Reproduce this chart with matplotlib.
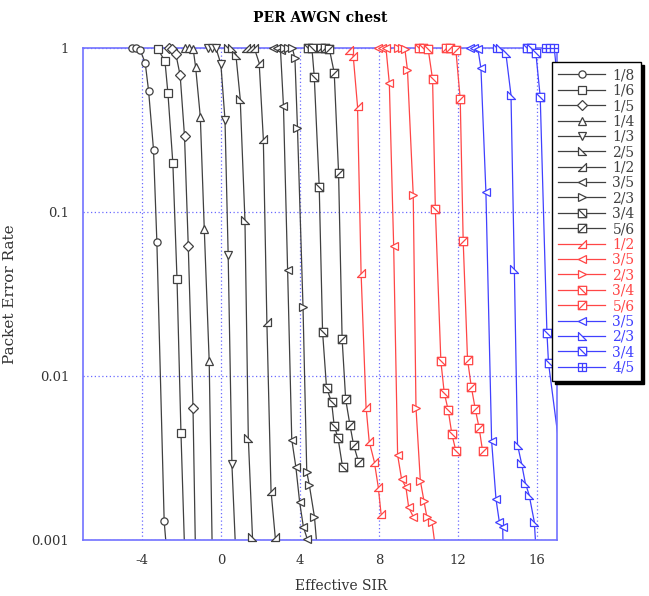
import numpy as np
import matplotlib
matplotlib.use("Agg")
import matplotlib.pyplot as plt
from matplotlib.path import Path
from matplotlib.lines import Line2D

plt.rcParams['font.family'] = ['DejaVu Serif']

# ---- data : effective SIR [dB] and PER ----
sir_b18 = [-4.5, -4.3, -4.1, -3.85, -3.68, -3.43, -3.26, -2.89, -2.78]
per_b18 = [1, 1, 0.97, 0.81, 0.55, 0.24, 0.066, 0.0013, 0.0009]
sir_b16 = [-3.22, -2.85, -2.70, -2.45, -2.24, -2.04, -1.86]
per_b16 = [0.99, 0.83, 0.53, 0.198, 0.039, 0.0045, 0.0009]
sir_b15 = [-2.67, -2.47, -2.30, -2.08, -1.86, -1.67, -1.43, -1.31]
per_b15 = [1, 0.99, 0.92, 0.68, 0.29, 0.062, 0.0064, 0.0009]
sir_b14 = [-1.82, -1.62, -1.42, -1.30, -1.06, -0.86, -0.61, -0.46]
per_b14 = [1, 1, 0.98, 0.77, 0.38, 0.079, 0.0123, 0.0009]
sir_b13 = [-0.69, -0.49, -0.27, -0.02, 0.19, 0.35, 0.54, 0.72]
per_b13 = [1, 1, 1, 0.80, 0.364, 0.0547, 0.0029, 0.0009]
sir_b25 = [0.32, 0.54, 0.74, 0.96, 1.20, 1.37, 1.58, 1.62]
per_b25 = [1, 1, 0.91, 0.49, 0.089, 0.0042, 0.00105, 0.0009]
sir_b12 = [1.25, 1.45, 1.67, 1.92, 2.13, 2.31, 2.52, 2.73, 2.86]
per_b12 = [1, 1, 1, 0.81, 0.28, 0.0214, 0.002, 0.00105, 0.0009]
sir_b35 = [2.60, 2.80, 3.00, 3.15, 3.36, 3.57, 3.78, 3.97, 4.16, 4.36]
per_b35 = [1, 1, 0.97, 0.443, 0.0443, 0.0041, 0.00277, 0.0017, 0.0012, 0.00101]
sir_b23 = [3.20, 3.40, 3.60, 3.73, 3.86, 4.14, 4.33, 4.46, 4.72, 4.85]
per_b23 = [1, 1, 1, 0.865, 0.324, 0.0263, 0.0026, 0.00216, 0.00138, 0.0009]
sir_b34 = [4.37, 4.59, 4.71, 4.96, 5.13, 5.33, 5.59, 5.72, 5.91, 6.14]
per_b34 = [1, 1, 0.668, 0.143, 0.0186, 0.0085, 0.0069, 0.00495, 0.0042, 0.0028]
sir_b56 = [5.05, 5.27, 5.47, 5.72, 5.94, 6.12, 6.30, 6.52, 6.70, 6.95]
per_b56 = [1, 1, 0.99, 0.707, 0.174, 0.0168, 0.0072, 0.005, 0.0038, 0.003]

sir_r12 = [6.48, 6.68, 6.90, 7.08, 7.33, 7.49, 7.75, 7.95, 8.09]
per_r12 = [0.97, 0.9, 0.44, 0.0425, 0.0065, 0.004, 0.003, 0.0021, 0.00145]
sir_r35 = [7.92, 8.12, 8.34, 8.51, 8.73, 8.93, 9.13, 9.35, 9.49, 9.73]
per_r35 = [1, 1, 1, 0.61, 0.062, 0.0033, 0.00235, 0.0021, 0.00158, 0.00138]
sir_r23 = [8.93, 9.13, 9.30, 9.43, 9.72, 9.86, 10.08, 10.26, 10.41, 10.67, 10.84]
per_r23 = [1, 1, 0.98, 0.73, 0.127, 0.0064, 0.0023, 0.00174, 0.00138, 0.00129, 0.0009]
sir_r34 = [10.03, 10.24, 10.48, 10.70, 10.84, 11.12, 11.29, 11.49, 11.68, 11.88]
per_r34 = [1, 1, 0.98, 0.644, 0.105, 0.0123, 0.0079, 0.0062, 0.0044, 0.0035]
sir_r56 = [11.38, 11.60, 11.88, 12.10, 12.25, 12.47, 12.66, 12.86, 13.06, 13.23]
per_r56 = [1, 1, 0.97, 0.489, 0.0665, 0.0126, 0.0086, 0.0063, 0.0048, 0.0035]

sir_u35 = [12.60, 12.80, 13.00, 13.15, 13.40, 13.69, 13.91, 14.08, 14.25, 14.27]
per_u35 = [1, 1, 0.98, 0.75, 0.133, 0.004, 0.00178, 0.00129, 0.0012, 0.0009]
sir_u23 = [13.96, 14.13, 14.41, 14.67, 14.84, 15.00, 15.20, 15.39, 15.59, 15.85, 15.93]
per_u23 = [1, 1, 0.93, 0.517, 0.045, 0.0038, 0.00295, 0.00224, 0.00188, 0.00129, 0.0009]
sir_u34 = [15.48, 15.68, 15.93, 16.15, 16.49, 16.57, 17.3]
per_u34 = [1, 1, 0.93, 0.505, 0.0184, 0.012, 0.0025]
sir_u45 = [16.44, 16.66, 16.86, 17.3]
per_u45 = [1, 1, 1, 0.3]

labels = ['1/8', '1/6', '1/5', '1/4', '1/3', '2/5', '1/2', '3/5', '2/3', '3/4', '5/6',
          '1/2', '3/5', '2/3', '3/4', '5/6',
          '3/5', '2/3', '3/4', '4/5']
xticks = [-4, 0, 4, 8, 12, 16]
yticks = [1, 0.1, 0.01, 0.001]
ytick_labels = ['1', '0.1', '0.01', '0.001']

# ---- marker shapes ----
M, L, C = Path.MOVETO, Path.LINETO, Path.CLOSEPOLY
tri_ll = Path([(-1, 1), (-1, -1), (1, -1), (-1, 1)], [M, L, L, C])
tri_lr = Path([(1, 1), (1, -1), (-1, -1), (1, 1)], [M, L, L, C])
sq = [(-1, -1), (1, -1), (1, 1), (-1, 1), (-1, -1)]
sq_c = [M, L, L, L, C]
sq_back = Path(sq + [(-1, 1), (1, -1)], sq_c + [M, L])
sq_fwd = Path(sq + [(-1, -1), (1, 1)], sq_c + [M, L])
sq_grid = Path(sq + [(0, -1), (0, 1), (-1, 0), (1, 0)], sq_c + [M, L, M, L])

K = '#404040'
R = '#ff4646'
B = '#4040ff'

series = [
    (sir_b18, per_b18, K, 'o', 5.2),
    (sir_b16, per_b16, K, 's', 5.6),
    (sir_b15, per_b15, K, 'D', 4.6),
    (sir_b14, per_b14, K, '^', 6),
    (sir_b13, per_b13, K, 'v', 6),
    (sir_b25, per_b25, K, tri_ll, 6),
    (sir_b12, per_b12, K, tri_lr, 6),
    (sir_b35, per_b35, K, '<', 6),
    (sir_b23, per_b23, K, '>', 6),
    (sir_b34, per_b34, K, sq_back, 6),
    (sir_b56, per_b56, K, sq_fwd, 6),
    (sir_r12, per_r12, R, tri_lr, 6),
    (sir_r35, per_r35, R, '<', 6),
    (sir_r23, per_r23, R, '>', 6),
    (sir_r34, per_r34, R, sq_back, 6),
    (sir_r56, per_r56, R, sq_fwd, 6),
    (sir_u35, per_u35, B, '<', 6),
    (sir_u23, per_u23, B, tri_ll, 6),
    (sir_u34, per_u34, B, sq_back, 6),
    (sir_u45, per_u45, B, sq_grid, 6),
]

xmin, xmax = -7, 17
ymin, ymax = 0.001, 1

fig = plt.figure(figsize=(6.49, 5.96), dpi=100)
ax = fig.add_axes([83/649, 1-540/596, (557-83)/649, (540-48)/596])

handles = []
for (x, y, col, mk, ms), lab in zip(series, labels):
    x = np.array(x); y = np.array(y)
    ax.plot(x, y, color=col, lw=0.9, zorder=2)
    inside = (x >= xmin) & (x <= xmax) & (y >= ymin*0.999) & (y <= ymax)
    ax.plot(x[inside], y[inside], ls='none', marker=mk, ms=ms, mfc='white',
            mec=col, mew=0.9, clip_on=False, zorder=3)
    handles.append(Line2D([], [], color=col, lw=0.9, marker=mk, ms=ms,
                          mfc='white', mec=col, mew=0.9, label=lab))

ax.set_yscale('log')
ax.set_xlim(xmin, xmax)
ax.set_ylim(ymin, ymax)
ax.set_xticks(xticks)
ax.set_xticklabels([str(t) for t in xticks])
ax.set_yticks(yticks)
ax.set_yticklabels(ytick_labels)
ax.yaxis.set_minor_locator(matplotlib.ticker.NullLocator())
ax.tick_params(length=0, labelsize=9.5, labelcolor='#333333')
ax.tick_params(axis='x', pad=10)
ax.tick_params(axis='y', pad=10)
ax.grid(True, color='#6a6aff', linestyle=(0, (1, 2)), lw=0.9)
for s in ax.spines.values():
    s.set_color('#7272ff')
    s.set_linewidth(1.2)

ax.set_title('PER AWGN chest', fontsize=10, fontweight='bold', pad=19)
ax.set_xlabel('Effective SIR', fontsize=10, color='#333333')
ax.xaxis.set_label_coords(0.544, -0.08)
ax.set_ylabel('Packet Error Rate', fontsize=11, color='#333333')
ax.yaxis.set_label_coords(-0.14, 0.5)

leg = fig.legend(handles=handles, loc='upper left',
                 bbox_to_anchor=(552/649, 1-62/596), borderaxespad=0,
                 fontsize=10, labelspacing=0.1, handlelength=3.4,
                 handletextpad=0.5, borderpad=0.45, fancybox=False,
                 framealpha=1, edgecolor='black', labelcolor='linecolor',
                 shadow={'facecolor': 'black', 'edgecolor': 'black', 'alpha': 1})
leg.get_frame().set_linewidth(1.0)

plt.savefig('out.png', dpi=100)
